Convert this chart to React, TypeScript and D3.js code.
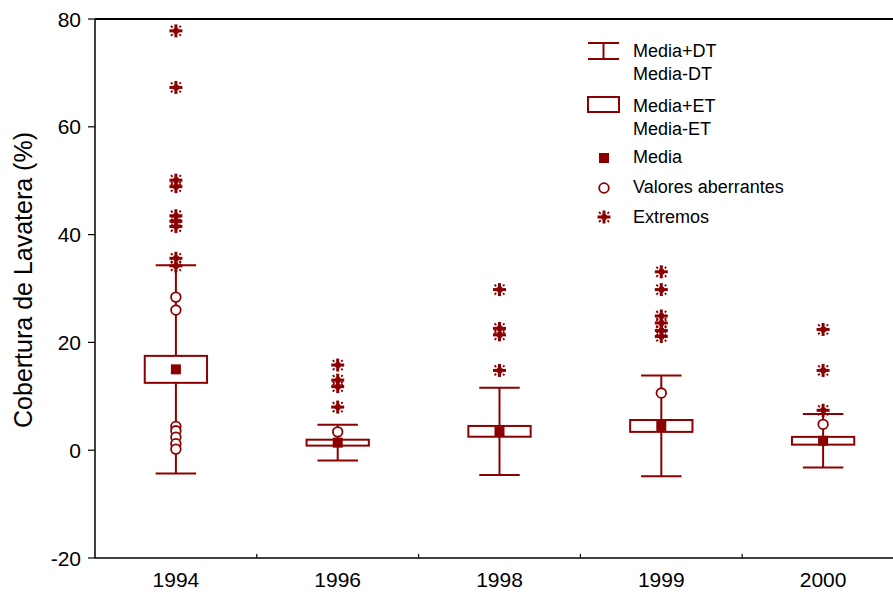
import React from "react";
import * as d3 from "d3";

// Cobertura de Lavatera por año: media, error típico, desviación típica,
// valores aberrantes y extremos.
const years = ["1994", "1996", "1998", "1999", "2000"];
const means = [15.0, 1.4, 3.5, 4.5, 1.75];
const stdDev = [19.3, 3.3, 8.1, 9.35, 4.95];
const stdErr = [2.5, 0.55, 1.0, 1.1, 0.72];
const outliers = [
  [28.4, 26.0, 4.4, 3.6, 2.4, 1.2, 0.2],
  [3.4],
  [],
  [10.6],
  [4.8],
];
const extremes = [
  [77.8, 67.3, 50.1, 48.9, 43.5, 42.5, 41.5, 35.6, 34.2],
  [15.8, 13.0, 11.8, 8.0],
  [29.8, 22.6, 21.4, 14.8],
  [33.1, 29.8, 24.9, 23.6, 22.2, 21.1],
  [22.4, 14.8, 7.4],
];
const yTicks = [-20, 0, 20, 40, 60, 80];
const legendItems = [
  "Media+DT",
  "Media-DT",
  "Media+ET",
  "Media-ET",
  "Media",
  "Valores aberrantes",
  "Extremos",
];

const W = 893;
const H = 592;
const left = 95;
const top = 19;
const bottom = 558;
const COLOR = "#8b0000";
const FONT = "'Liberation Sans', Arial, sans-serif";

const y = d3.scaleLinear().domain([-20, 80]).range([bottom, top]);
const x = d3.scaleBand<string>().domain(years).range([left, 904]).padding(0);

function Star({ cx, cy }: { cx: number; cy: number }) {
  const r = 6.5;
  const d = 5;
  return (
    <g stroke={COLOR}>
      <line x1={cx - r} x2={cx + r} y1={cy} y2={cy} strokeWidth={3} />
      <line x1={cx} x2={cx} y1={cy - r} y2={cy + r} strokeWidth={3} />
      <line x1={cx - d} x2={cx + d} y1={cy - d} y2={cy + d} strokeWidth={1.8} strokeDasharray="2.5,1.5" />
      <line x1={cx - d} x2={cx + d} y1={cy + d} y2={cy - d} strokeWidth={1.8} strokeDasharray="2.5,1.5" />
    </g>
  );
}

export default function App() {
  const bw = x.bandwidth();
  const boxW = bw * 0.385;
  const capW = bw * 0.25;
  const sq = 10;

  return (
    <svg width={W} height={H} style={{ position: "absolute", left: 0, top: 0, background: "#fff" }} fontFamily={FONT}>
      <rect width={W} height={H} fill="#fff" />

      {/* boxes, whiskers and points */}
      {years.map((yr, i) => {
        const cx = (x(yr) as number) + bw / 2;
        const m = means[i];
        const hi = m + stdDev[i];
        const lo = m - stdDev[i];
        return (
          <g key={yr}>
            <line x1={cx} x2={cx} y1={y(hi)} y2={y(lo)} stroke={COLOR} strokeWidth={2} />
            <line x1={cx - capW / 2} x2={cx + capW / 2} y1={y(hi)} y2={y(hi)} stroke={COLOR} strokeWidth={2} />
            <line x1={cx - capW / 2} x2={cx + capW / 2} y1={y(lo)} y2={y(lo)} stroke={COLOR} strokeWidth={2} />
            <rect
              x={cx - boxW / 2}
              y={y(m + stdErr[i])}
              width={boxW}
              height={y(m - stdErr[i]) - y(m + stdErr[i])}
              fill="#fff"
              stroke={COLOR}
              strokeWidth={2}
            />
            <rect x={cx - sq / 2} y={y(m) - sq / 2} width={sq} height={sq} fill={COLOR} />
            {outliers[i].map((v, j) => (
              <circle key={"o" + j} cx={cx} cy={y(v)} r={4.8} fill="#fff" stroke={COLOR} strokeWidth={1.8} />
            ))}
            {extremes[i].map((v, j) => (
              <Star key={"e" + j} cx={cx} cy={y(v)} />
            ))}
          </g>
        );
      })}

      {/* frame */}
      <line x1={left} x2={W} y1={top} y2={top} stroke="#000" strokeWidth={2} />
      <line x1={left} x2={left} y1={top} y2={bottom} stroke="#000" strokeWidth={1.5} />
      <line x1={left} x2={W} y1={bottom} y2={bottom} stroke="#000" strokeWidth={1.5} />

      {/* y axis */}
      {yTicks.map((t) => (
        <g key={t}>
          <line x1={left - 7} x2={left} y1={y(t)} y2={y(t)} stroke="#000" strokeWidth={1.2} />
          <text x={81} y={y(t)} dy="0.36em" textAnchor="end" fontSize={21} fill="#000">
            {t}
          </text>
        </g>
      ))}
      <text
        transform={`translate(32, 280) rotate(-90)`}
        textAnchor="middle"
        fontSize={25}
        fill="#000"
      >
        Cobertura de Lavatera (%)
      </text>

      {/* x axis */}
      {years.slice(1).map((yr) => (
        <line key={yr} x1={x(yr) as number} x2={x(yr) as number} y1={bottom} y2={bottom - 4} stroke="#000" strokeWidth={1.2} />
      ))}
      {years.map((yr) => (
        <text key={yr} x={(x(yr) as number) + bw / 2} y={587} textAnchor="middle" fontSize={21} fill="#000">
          {yr}
        </text>
      ))}

      {/* legend */}
      <g>
        <line x1={588} x2={619} y1={43} y2={43} stroke={COLOR} strokeWidth={2} />
        <line x1={588} x2={619} y1={59} y2={59} stroke={COLOR} strokeWidth={2} />
        <line x1={603.5} x2={603.5} y1={43} y2={59} stroke={COLOR} strokeWidth={2} />
        <rect x={588} y={97} width={31} height={15} fill="#fff" stroke={COLOR} strokeWidth={2} />
        <rect x={599} y={153} width={sq} height={sq} fill={COLOR} />
        <circle cx={604} cy={188} r={4.8} fill="#fff" stroke={COLOR} strokeWidth={1.8} />
        <Star cx={604} cy={217} />
        {legendItems.map((t, i) => (
          <text key={t} x={633} y={[57, 80, 111.5, 135, 163, 193, 223][i]} fontSize={18} fill="#000">
            {t}
          </text>
        ))}
      </g>
    </svg>
  );
}
